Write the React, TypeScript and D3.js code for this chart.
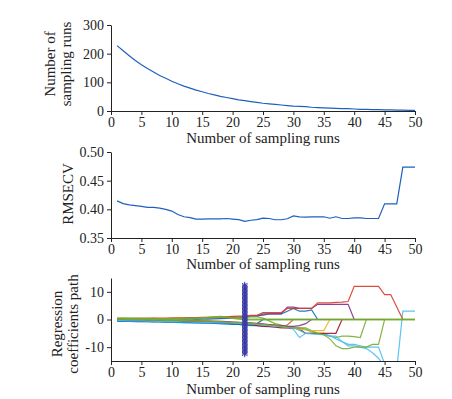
import React, { useEffect, useRef } from 'react';
import * as d3 from 'd3';

// sampling run index
const runs = [1, 2, 3, 4, 5, 6, 7, 8, 9, 10, 11, 12, 13, 14, 15, 16, 17, 18, 19, 20, 21, 22, 23, 24, 25,
  26, 27, 28, 29, 30, 31, 32, 33, 34, 35, 36, 37, 38, 39, 40, 41, 42, 43, 44, 45, 46, 47, 48, 49, 50];

// number of retained variables per run
const varCount = [228, 210, 193, 176, 161, 148, 136, 124, 114, 104, 95, 87, 80, 73, 67, 61, 56, 51, 47, 43,
  39, 36, 33, 30, 27, 25, 23, 21, 19, 17, 16, 15, 13, 12, 11, 10, 9, 8, 8, 7, 6, 6, 5, 5, 4, 4, 3, 3, 2, 2];

const rmsecv = [0.4147, 0.410, 0.4077, 0.4065, 0.4053, 0.4035, 0.4035, 0.402, 0.400, 0.397,
  0.391, 0.387, 0.3855, 0.383, 0.383, 0.3835, 0.3835, 0.3835, 0.384, 0.383,
  0.382, 0.379, 0.381, 0.382, 0.3845, 0.384, 0.3818, 0.3818, 0.3835, 0.3886,
  0.387, 0.3865, 0.387, 0.387, 0.387, 0.3845, 0.387, 0.384, 0.384, 0.385,
  0.385, 0.384, 0.384, 0.384, 0.4095, 0.4095, 0.4095, 0.4735, 0.4735, 0.4735];

// regression coefficient paths
const coefA = [0.3, 0.3, 0.3, 0.4, 0.4, 0.4, 0.5, 0.5, 0.5, 0.6, 0.6, 0.6, 0.7, 0.7, 0.8, 0.8, 0.9, 1.0, 1.0, 1.1,
  1.2, 1.3, 1.5, 1.5, 2.5, 2.5, 2.5, 2.5, 4.0, 4.0, 4.0, 4.0, 4.0, 6.0, 6.0, 6.0, 6.2, 6.3, 6.5, 12.0,
  12.0, 12.0, 12.0, 12.0, 9.0, 9.0, 4.5, 0, 0, 0];
const coefB = [0.2, 0.2, 0.1, 0.1, 0.1, 0.2, 0.2, 0.2, 0.3, 0.3, 0.3, 0.3, 0.4, 0.4, 0.5, 0.5, 0.6, 0.6, 0.7, 0.8,
  0.9, 1.0, 1.2, 1.4, 1.6, 2.0, 2.0, 2.0, 4.5, 4.5, 4.0, 4.0, 4.0, 5.5, 5.5, 5.5, 5.5, 5.5, 5.5, 0,
  0, 0, 0, 0, 0, 0, 0, 0, 0, 0];
const coefC = [-0.5, -0.5, -0.4, -0.4, -0.4, -0.3, -0.3, -0.3, -0.2, -0.2, -0.2, -0.1, -0.1, 0, 0.1, 0.1, 0.2, 0.3, 0.4, 0.5,
  0.6, 0.8, 1.0, 1.0, 2.0, 2.0, 2.0, 2.0, 3.0, 4.0, 3.0, 3.0, 3.5, 0, 0, 0, 0, 0, 0, 0,
  0, 0, 0, 0, 0, 0, 0, 0, 0, 0];
const coefD = [-0.6, -0.6, -0.7, -0.7, -0.8, -0.8, -0.9, -0.9, -1.0, -1.0, -1.1, -1.1, -1.2, -1.2, -1.3, -1.3, -1.4, -1.5, -1.6, -1.7,
  -1.8, -2.0, -2.2, -2.2, -2.5, -2.5, -2.6, -2.8, -3.0, -3.5, -6.5, -5.0, -5.0, -5.2, -5.5, -5.8, -7.0, -8.0, -9.0, -9.0,
  -9.5, -10.0, -10.0, -10.0, -16, -17, -18, 3, 3, 3];
const coefE = [-0.4, -0.4, -0.5, -0.5, -0.5, -0.6, -0.6, -0.7, -0.7, -0.8, -0.8, -0.9, -0.9, -1.0, -1.0, -1.1, -1.1, -1.2, -1.2, -1.3,
  -1.4, -1.5, -1.6, -1.8, -2.0, -2.2, -2.4, -2.6, -2.8, -3.0, -4.0, -5.0, -5.2, -5.4, -5.5, -6.0, -6.0, -8.0, -9.5, -9.5,
  -10.0, -10.5, -12.0, -14.0, -17, -18, -18, -18, -18, -18];
const coefF = [0.5, 0.5, 0.5, 0.4, 0.4, 0.4, 0.4, 0.3, 0.3, 0.3, 0.4, 0.5, 0.5, 0.6, 0.7, 0.8, 0.8, 0.9, 1.0, 1.0,
  0.8, 1.0, 1.0, 1.0, 0.5, -0.5, -1.5, -2.0, -2.5, -3.0, -3.0, -3.0, -4.0, -5.0, -5.0, -6.0, -6.5, -6.0, -6.0, -6.2,
  -6.5, 0, 0, 0, 0, 0, 0, 0, 0, 0];
const coefG = [0.1, 0.1, 0.0, 0.0, -0.1, -0.1, -0.2, -0.2, -0.3, -0.3, -0.4, -0.4, -0.5, -0.5, -0.6, -0.6, -0.7, -0.8, -0.9, -1.0,
  -1.1, -1.2, -1.4, -1.6, -1.8, -2.0, -2.2, -2.5, -2.8, -3.0, -3.0, -3.5, -4.5, -5.0, -5.5, -7.0, -9.5, -10.5, -10.5, -10.0,
  -10.0, -10.0, -9.0, -9.0, 0, 0, 0, 0, 0, 0];
const coefH = [-0.2, -0.2, -0.2, -0.3, -0.3, -0.3, -0.4, -0.4, -0.4, -0.5, -0.5, -0.6, -0.6, -0.7, -0.7, -0.8, -0.8, -0.9, -1.0, -1.1,
  -1.2, -1.4, -1.5, -1.5, 0, 0, 0, 0, 0, 0, 0, 0, 0, 0, 0, 0, 0, 0, 0, 0,
  0, 0, 0, 0, 0, 0, 0, 0, 0, 0];
const coefI = [0.0, 0.0, -0.1, -0.1, -0.1, -0.2, -0.2, -0.2, -0.3, -0.3, -0.3, -0.4, -0.4, -0.5, -0.5, -0.6, -0.6, -0.7, -0.8, -0.9,
  -1.0, -1.2, -1.4, -1.6, -1.8, -2.0, -2.2, -2.5, -2.8, -3.0, -3.5, -3.8, -4.0, -4.0, -4.0, 0, 0, 0, 0, 0,
  0, 0, 0, 0, 0, 0, 0, 0, 0, 0];
const coefJ = [-0.3, -0.3, -0.4, -0.4, -0.4, -0.5, -0.5, -0.5, -0.6, -0.6, -0.7, -0.7, -0.8, -0.8, -0.9, -1.0, -1.1, -1.2, -1.3, -1.5,
  -1.6, -1.8, -2.0, -2.2, -2.5, -2.6, -2.8, -3.0, -3.0, -3.0, -3.5, -5.0, -5.0, -5.0, -5.0, -5.0, -5.0, 0, 0, 0,
  0, 0, 0, 0, 0, 0, 0, 0, 0, 0];
const coefK = [0.1, 0.1, 0.1, 0.0, 0.0, 0.0, -0.1, -0.1, -0.2, -0.2, -0.3, -0.3, -0.4, -0.5, -0.6, -0.7, -0.8, -1.0, -1.2, -1.5,
  -1.6, -1.8, -2.0, -2.0, -2.0, -2.0, -2.0, -2.5, -2.0, 0, 0, 0, 0, 0, 0, 0, 0, 0, 0, 0,
  0, 0, 0, 0, 0, 0, 0, 0, 0, 0];
const coefL = [-0.1, -0.1, -0.2, -0.2, -0.2, -0.3, -0.3, -0.3, -0.4, -0.4, -0.4, -0.5, -0.5, -0.5, -0.6, -0.6, -0.7, -0.7, -0.8, -0.9,
  -1.0, -1.1, -1.2, -1.4, -1.6, -1.8, -2.0, -2.2, -2.5, -2.5, -2.2, -1.5, 0, 0, 0, 0, 0, 0, 0, 0,
  0, 0, 0, 0, 0, 0, 0, 0, 0, 0];
const coefM = [-0.7, -0.7, -0.7, -0.8, -0.8, -0.8, -0.9, -0.9, -1.0, -1.0, -1.0, -1.1, -1.1, -1.2, -1.2, -1.3, -1.4, -1.5, -1.6, -1.8,
  -1.8, -2.0, -2.0, -1.5, 0, 0, 0, 0, 0, 0, 0, 0, 0, 0, 0, 0, 0, 0, 0, 0,
  0, 0, 0, 0, 0, 0, 0, 0, 0, 0];
const coefN = [0.4, 0.4, 0.3, 0.3, 0.3, 0.3, 0.2, 0.2, 0.2, 0.2, 0.3, 0.3, 0.4, 0.4, 0.5, 0.6, 0.8, 1.0, 0.8, 0.5,
  0.3, 0, 0, 0, 0, 0, 0, 0, 0, 0, 0, 0, 0, 0, 0, 0, 0, 0, 0, 0,
  0, 0, 0, 0, 0, 0, 0, 0, 0, 0];

const coefSeries = [coefC, coefK, coefH, coefB, coefF, coefD, coefJ, coefM, coefA, coefI, coefL, coefE, coefG, coefN];
const coefColors = ['#0072BD', '#D95319', '#EDB120', '#7E2F8E', '#77AC30', '#4DBEEE', '#A2142F',
  '#0072BD', '#D93A2A', '#EDB120', '#7E2F8E', '#4DBEEE', '#77AC30', '#77AC30'];

const bestRun = 22;
const markerLevels = [-12.5, -11.5, -10.5, -9.5, -8.5, -7.5, -6.5, -5.5, -4.5, -3.5, -2.5, -1.5, -0.5,
  0.5, 1.5, 2.5, 3.5, 4.5, 5.5, 6.5, 7.5, 8.5, 9.5, 10.5, 11.5, 12.5,
  -12, -11, -10, -9, -8, -7, -6, -5, -4, -3, -2, -1, 0, 1, 2, 3, 4, 5, 6, 7, 8, 9, 10, 11, 12];

const xTicks = [0, 5, 10, 15, 20, 25, 30, 35, 40, 45, 50];
const countTicks = [0, 100, 200, 300];
const rmseTicks = [0.35, 0.40, 0.45, 0.50];
const coefTicks = [-10, 0, 10];

const FONT = '"Liberation Serif", "Times New Roman", serif';

export default function App() {
  const ref = useRef<SVGSVGElement>(null);

  useEffect(() => {
    const svg = d3.select(ref.current);
    svg.selectAll('*').remove();

    const left = 111, right = 415;
    const x = d3.scaleLinear().domain([0, 50]).range([left, right]);

    const styleAxis = (g: any) => {
      g.selectAll('path.domain').attr('stroke', '#222');
      g.selectAll('line').attr('stroke', '#222');
      g.selectAll('text').attr('fill', '#222').attr('font-size', 14).attr('font-family', FONT);
    };

    const axes = (y: any, ticks: number[], fmt: (d: any) => string, bottom: number, titleY: number) => {
      svg.append('g')
        .attr('transform', `translate(0,${bottom})`)
        .call(d3.axisBottom(x).tickValues(xTicks).tickSize(4).tickSizeOuter(0).tickPadding(2) as any)
        .call(styleAxis);
      svg.append('g')
        .attr('transform', `translate(${left},0)`)
        .call(d3.axisLeft(y).tickValues(ticks).tickFormat(fmt).tickSize(4).tickSizeOuter(0).tickPadding(3) as any)
        .call(styleAxis);
      svg.append('text')
        .attr('x', (left + right) / 2).attr('y', titleY)
        .attr('text-anchor', 'middle')
        .attr('font-family', FONT).attr('font-size', 15).attr('fill', '#222')
        .text('Number of sampling runs');
    };

    const yLabel = (lines: string[], xs: number[], cy: number) => {
      lines.forEach((t, i) => {
        svg.append('text')
          .attr('transform', `translate(${xs[i]},${cy}) rotate(-90)`)
          .attr('dy', '0.35em')
          .attr('text-anchor', 'middle')
          .attr('font-family', FONT).attr('font-size', 15).attr('fill', '#222')
          .text(t);
      });
    };

    //panel 1 - retained variables
    const y1 = d3.scaleLinear().domain([0, 300]).range([111, 25]);
    axes(y1, countTicks, d => String(d), 111, 143);
    svg.append('path')
      .attr('d', d3.line<number>().x((d, i) => x(runs[i])).y(d => y1(d))(varCount))
      .attr('fill', 'none').attr('stroke', '#1f5fc0').attr('stroke-width', 1.2);
    yLabel(['Number of', 'sampling runs'], [50, 66], 64);

    //panel 2 - RMSECV
    const y2 = d3.scaleLinear().domain([0.35, 0.5]).range([238, 152]);
    axes(y2, rmseTicks, d => d3.format('.2f')(d), 238, 269);
    svg.append('path')
      .attr('d', d3.line<number>().x((d, i) => x(runs[i])).y(d => y2(d))(rmsecv))
      .attr('fill', 'none').attr('stroke', '#1f5fc0').attr('stroke-width', 1.2);
    yLabel(['RMSECV'], [68], 194);

    //panel 3 - coefficient paths
    const y3 = d3.scaleLinear().domain([-15, 15]).range([361, 278]);
    svg.append('clipPath').attr('id', 'coefClip')
      .append('rect').attr('x', left).attr('y', 272).attr('width', right - left + 2).attr('height', 361 - 272);
    const paths = svg.append('g').attr('clip-path', 'url(#coefClip)');
    const coefLine = d3.line<number>().x((d, i) => x(runs[i])).y(d => y3(d));
    coefSeries.forEach((s, k) => {
      paths.append('path')
        .attr('d', coefLine(s))
        .attr('fill', 'none')
        .attr('stroke', coefColors[k])
        .attr('stroke-width', k === coefSeries.length - 1 ? 2 : 1.2)
        .attr('opacity', 0.9);
    });
    const star = d3.symbol().type(d3.symbolAsterisk).size(28);
    svg.append('g').selectAll('path')
      .data(markerLevels)
      .enter().append('path')
      .attr('d', star)
      .attr('transform', d => `translate(${x(bestRun)},${y3(d)})`)
      .attr('fill', 'none')
      .attr('stroke', '#3a3aa6')
      .attr('stroke-width', 1);
    axes(y3, coefTicks, d => String(d), 361, 394);
    yLabel(['Regression', 'coefficients path'], [57, 73], 324);
  }, []);

  return (
    <svg ref={ref} width={452} height={399}
      style={{ position: 'absolute', left: 0, top: 0, background: '#fff' }} />
  );
}
